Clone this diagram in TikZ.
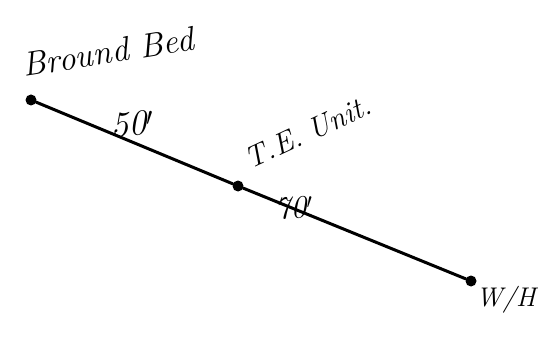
\documentclass[tikz,border=0pt]{standalone}
\usepackage{fontspec}
\begin{document}
\begin{tikzpicture}[x=1pt,y=-1pt,
  wire/.style={line width=3pt,line cap=round},
  dotnode/.style={circle,fill=black,inner sep=0pt,minimum size=11pt},
  hand/.style={inner sep=0pt}]
\useasboundingbox (0,0) rectangle (538,350);
\fill[white] (0,0) rectangle (538,350);
\node[dotnode] (gb) at (31,100) {};
\node[dotnode] (te) at (238,186) {};
\node[dotnode] (wh) at (471,281) {};
\draw[wire] (gb) -- (te);
\draw[wire] (te) -- (wh);
\node[hand,rotate=9,font=\itshape\fontsize{34}{34}\selectfont] (lgb) at (108,52) {Bround Bed};
\node[hand,rotate=4,font=\itshape\fontsize{36}{36}\selectfont] (l50) at (132,124) {50$'$};
\node[hand,rotate=25,font=\itshape\fontsize{30}{30}\selectfont] (lte) at (308,132) {T.E. Unit.};
\node[hand,rotate=4,font=\itshape\fontsize{32}{32}\selectfont] (l70) at (294,208) {70$'$};
\node[hand,anchor=west,font=\itshape\fontsize{27}{27}\selectfont] (lwh) at (476,300) {W/H};
\end{tikzpicture}
\end{document}
